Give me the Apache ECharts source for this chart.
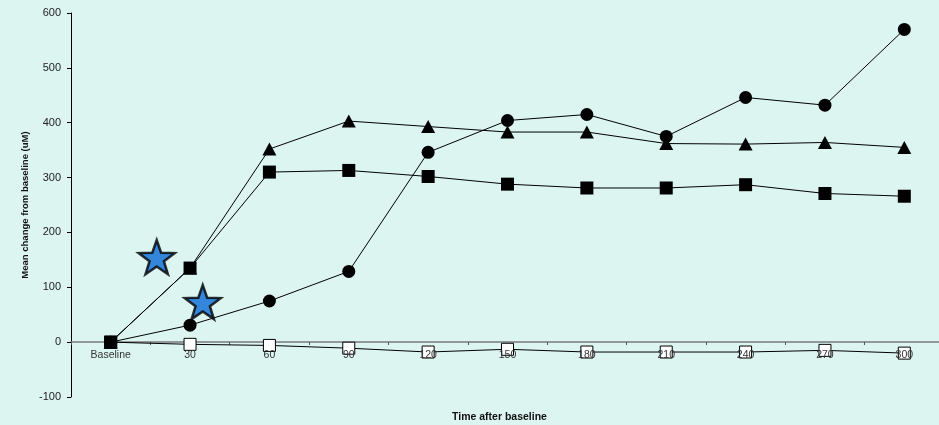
<!DOCTYPE html>
<html>
<head>
<meta charset="utf-8">
<script src="https://cdn.jsdelivr.net/npm/echarts@6/dist/echarts.min.js"></script>
<style>
  html, body { margin: 0; padding: 0; background: #dcf5f0; }
  #chart { width: 939px; height: 425px; }
</style>
</head>
<body>
<div id="chart"></div>
<script>
// Time points (days after baseline)
const categories = ['Baseline', '30', '60', '90', '120', '150', '180', '210', '240', '270', '300'];

// Mean change from baseline (uM) per group
const circleSeries   = [0, 31, 75, 129, 346, 404, 415, 375, 446, 432, 570];
const triangleSeries = [0, 135, 352, 403, 393, 383, 383, 362, 361, 364, 355];
const squareSeries   = [0, 135, 310, 313, 302, 288, 281, 281, 287, 271, 266];
const openSquareSeries = [0, -4, -6, -11, -18, -13, -18, -18, -18, -15, -20];

// Event markers: [position along the time axis in category steps, value]
const starPoints = [[0.58, 155], [1.16, 73]];

const yTicks = { min: -100, max: 600, interval: 100 };

const starPath = 'path://M0,-10 L2.35,-3.24 L9.51,-3.09 L3.8,1.24 L5.88,8.09 L0,4 L-5.88,8.09 L-3.8,1.24 L-9.51,-3.09 L-2.35,-3.24 Z';

const FONT = 'Liberation Sans, Arial, sans-serif';

const chart = echarts.init(document.getElementById('chart'), null, { renderer: 'canvas' });

const lineStyle = { color: '#000', width: 1 };

// plot area: 384px tall for 700 units, so the zero line sits 55px above the bottom
const zeroOffset = -Math.round(384 * (0 - yTicks.min) / (yTicks.max - yTicks.min));

chart.setOption({
  backgroundColor: '#dcf5f0',
  animation: false,
  grid: { left: 71, top: 13, width: 873, bottom: 28, containLabel: false, outerBoundsMode: 'none' },
  xAxis: [
    {
      // time axis line and ticks, drawn beneath the markers
      type: 'category',
      position: 'bottom',
      data: categories,
      boundaryGap: true,
      offset: zeroOffset,
      z: 0,
      axisLine: { onZero: false, lineStyle: { color: '#7a7a7a', width: 1.5 } },
      axisTick: { show: true, length: 3, inside: false, lineStyle: { color: '#555', width: 1 } },
      axisLabel: { show: false },
      splitLine: { show: false }
    },
    {
      // positions the event stars between time points
      type: 'value',
      position: 'top',
      min: -0.5,
      max: 10.5,
      show: false,
      axisLine: { onZero: false }
    },
    {
      // time labels, drawn over the markers
      type: 'category',
      position: 'bottom',
      data: categories,
      boundaryGap: true,
      offset: zeroOffset,
      z: 10,
      axisLine: { show: false, onZero: false },
      axisTick: { show: false },
      axisLabel: { color: '#333', fontSize: 10.5, fontFamily: FONT, margin: 8 },
      splitLine: { show: false }
    }
  ],
  yAxis: {
    type: 'value',
    min: yTicks.min,
    max: yTicks.max,
    interval: yTicks.interval,
    name: 'Mean change from baseline (uM)',
    nameLocation: 'middle',
    nameGap: 41,
    nameMoveOverlap: false,
    nameTextStyle: { fontSize: 9.5, fontWeight: 'bold', color: '#111', fontFamily: FONT },
    axisLine: { show: true, onZero: false, lineStyle: { color: '#000', width: 1 } },
    axisTick: { show: true, length: 4, lineStyle: { color: '#000' } },
    axisLabel: { color: '#222', fontSize: 11, fontFamily: FONT, margin: 10 },
    splitLine: { show: false }
  },
  graphic: [
    {
      type: 'text',
      left: 452,
      top: 412,
      style: {
        text: 'Time after baseline',
        fontSize: 10.5,
        fontWeight: 'bold',
        fill: '#111',
        fontFamily: FONT
      }
    }
  ],
  series: [
    {
      name: 'Open square',
      type: 'line',
      data: openSquareSeries,
      symbol: 'rect',
      symbolSize: 12,
      lineStyle: lineStyle,
      itemStyle: { color: '#fff', borderColor: '#000', borderWidth: 1 },
      z: 2
    },
    {
      name: 'Circle',
      type: 'line',
      data: circleSeries,
      symbol: 'circle',
      symbolSize: 13,
      lineStyle: lineStyle,
      itemStyle: { color: '#000' },
      z: 3
    },
    {
      name: 'Triangle',
      type: 'line',
      data: triangleSeries,
      symbol: 'triangle',
      symbolSize: [14, 13],
      lineStyle: lineStyle,
      itemStyle: { color: '#000' },
      z: 3
    },
    {
      name: 'Square',
      type: 'line',
      data: squareSeries,
      symbol: 'rect',
      symbolSize: 13,
      lineStyle: lineStyle,
      itemStyle: { color: '#000' },
      z: 4
    },
    {
      name: 'Event',
      type: 'scatter',
      xAxisIndex: 1,
      data: starPoints,
      symbol: starPath,
      symbolSize: [36, 34],
      itemStyle: { color: '#0a6ad6', borderColor: '#000', borderWidth: 2.5 },
      z: 5
    }
  ]
});
</script>
</body>
</html>
